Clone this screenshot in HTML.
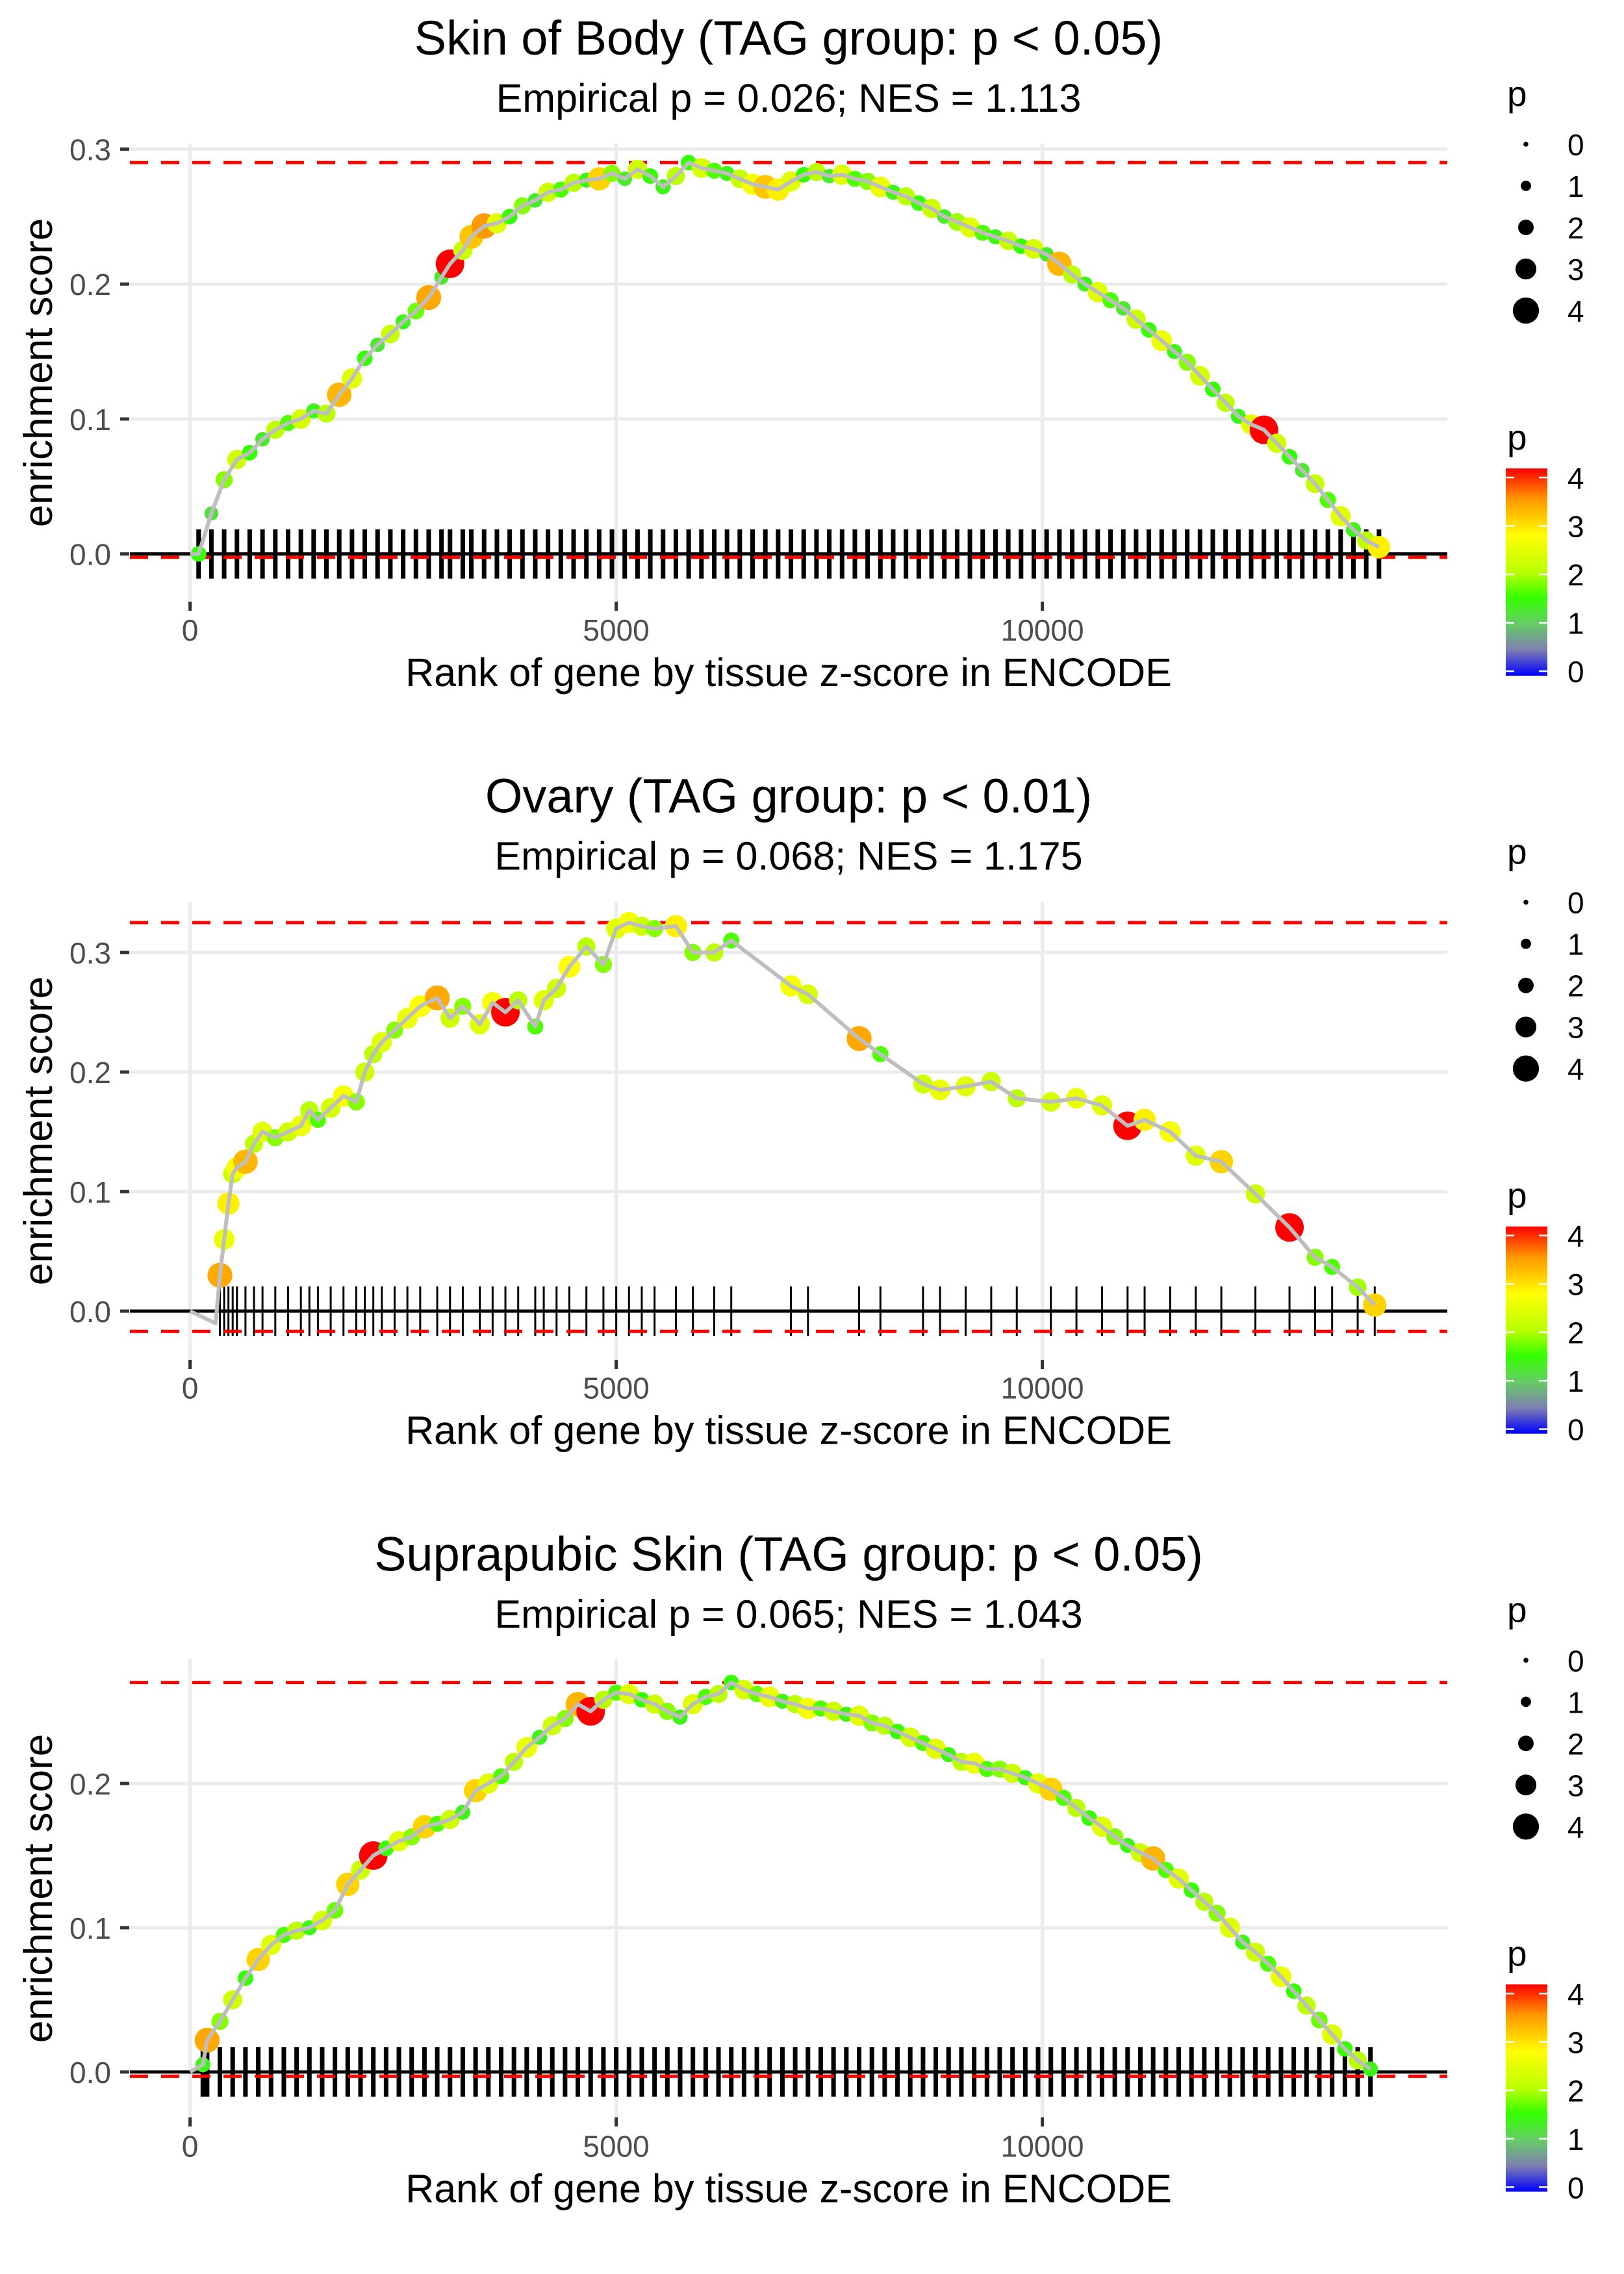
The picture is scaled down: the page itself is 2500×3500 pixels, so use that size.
<!DOCTYPE html>
<html><head><meta charset="utf-8"><style>
html,body{margin:0;padding:0;background:#fff;}
svg{display:block;font-family:"Liberation Sans",sans-serif;}
</style></head><body>
<svg id="chart" width="2500" height="3500" viewBox="0 0 2500 3500" xmlns="http://www.w3.org/2000/svg">
<defs>
<linearGradient id="pgrad" x1="0" y1="1" x2="0" y2="0">
<stop offset="0" stop-color="#0000ff"/><stop offset="0.125" stop-color="#7f7fb0"/><stop offset="0.25" stop-color="#66cc66"/><stop offset="0.375" stop-color="#33ff00"/><stop offset="0.5" stop-color="#bbff00"/><stop offset="0.675" stop-color="#ffff00"/><stop offset="0.85" stop-color="#ff9900"/><stop offset="1" stop-color="#ff0000"/>
</linearGradient>
</defs>
</svg>
<script>
// ---- data ----
const titles = ["Skin of Body (TAG group: p < 0.05)", "Ovary (TAG group: p < 0.01)", "Suprapubic Skin (TAG group: p < 0.05)"];
const subtitles = ["Empirical p = 0.026; NES = 1.113", "Empirical p = 0.068; NES = 1.175", "Empirical p = 0.065; NES = 1.043"];
const xTicks = [0, 5000, 10000];
const yTicks1 = [0, 0.1, 0.2, 0.3];
const yTicks2 = [0, 0.1, 0.2, 0.3];
const yTicks3 = [0, 0.1, 0.2];
const legendValues = [0, 1, 2, 3, 4];
const minEs = [-0.0025, -0.017, -0.003];

const ranks1 = [100,250,400,550,700,850,1000,1150,1300,1450,1600,1750,1900,2050,2200,2350,2500,2650,2800,2950,3050,3200,3300,3450,3600,3750,3900,4050,4200,4350,4500,4650,4800,4950,5100,5250,5400,5550,5700,5850,6000,6150,6300,6450,6600,6750,6900,7050,7200,7350,7500,7650,7800,7950,8100,8250,8400,8550,8700,8850,9000,9150,9300,9450,9600,9750,9900,10050,10200,10350,10500,10650,10800,10950,11100,11250,11400,11550,11700,11850,12000,12150,12300,12450,12600,12750,12900,13050,13200,13350,13500,13650,13800,13950];
const es1 = [0,0.03,0.055,0.07,0.075,0.085,0.092,0.097,0.1,0.106,0.104,0.118,0.13,0.145,0.155,0.163,0.172,0.18,0.19,0.205,0.215,0.225,0.235,0.243,0.245,0.25,0.258,0.262,0.268,0.27,0.275,0.277,0.278,0.282,0.278,0.285,0.28,0.272,0.28,0.29,0.286,0.284,0.282,0.278,0.274,0.272,0.27,0.276,0.281,0.283,0.28,0.281,0.278,0.276,0.272,0.268,0.265,0.26,0.256,0.25,0.246,0.242,0.238,0.235,0.232,0.228,0.226,0.222,0.215,0.207,0.2,0.194,0.188,0.182,0.174,0.166,0.158,0.15,0.142,0.132,0.122,0.112,0.102,0.096,0.092,0.082,0.072,0.062,0.052,0.04,0.028,0.018,0.01,0.005];
const p1 = [1.5,1.2,1.8,2.2,1.5,1.3,2.0,1.6,2.3,1.4,2.0,3.2,2.4,1.5,1.3,2.1,1.4,1.7,3.3,1.3,4.0,2.2,3.1,3.4,2.4,1.5,1.8,1.3,2.2,1.6,2.0,1.4,3.0,1.8,1.3,2.2,1.5,1.4,2.0,1.5,2.3,1.6,1.4,2.1,2.6,3.1,2.8,2.4,1.5,2.0,1.3,2.4,1.6,1.8,2.5,1.4,2.0,1.5,2.2,1.3,1.9,2.4,1.6,1.4,2.1,1.5,2.3,1.3,3.2,2.0,1.4,2.4,1.6,1.3,2.2,1.5,2.5,1.4,1.8,2.3,1.5,2.0,1.4,2.4,4.0,2.2,1.5,1.3,2.1,1.6,2.4,1.4,2.0,2.8];

const ranks2 = [350,400,450,500,550,650,750,850,1000,1150,1300,1400,1500,1650,1800,1950,2050,2150,2250,2400,2550,2700,2900,3050,3200,3400,3550,3700,3850,4050,4150,4300,4450,4650,4850,5000,5150,5300,5450,5700,5900,6150,6350,7050,7250,7850,8100,8600,8800,9100,9400,9700,10100,10400,10700,11000,11200,11500,11800,12100,12500,12900,13200,13400,13700,13900];
const es2 = [0.03,0.06,0.09,0.115,0.12,0.125,0.14,0.15,0.145,0.15,0.155,0.168,0.16,0.17,0.18,0.175,0.2,0.215,0.225,0.235,0.245,0.255,0.262,0.245,0.255,0.24,0.258,0.25,0.26,0.238,0.26,0.27,0.288,0.305,0.29,0.32,0.325,0.322,0.32,0.322,0.3,0.3,0.31,0.272,0.265,0.228,0.215,0.19,0.185,0.188,0.192,0.178,0.175,0.178,0.172,0.155,0.16,0.15,0.13,0.125,0.098,0.07,0.045,0.037,0.02,0.005];
const p2 = [3.3,2.5,2.8,2.2,2.6,3.2,2.0,2.4,1.8,2.2,2.5,2.0,1.6,2.3,2.6,1.8,2.2,2.0,2.4,1.8,2.5,2.7,3.3,2.2,1.8,2.4,2.6,4.0,2.0,1.6,2.4,2.2,2.7,2.0,1.8,2.4,2.6,2.2,1.8,2.8,1.8,2.0,1.6,2.6,2.3,3.3,1.6,2.2,2.5,2.4,2.2,2.0,2.3,2.5,2.4,4.0,2.8,2.6,2.4,3.0,2.2,4.0,1.8,1.6,1.9,3.0];

const ranks3 = [150,200,350,500,650,800,950,1100,1250,1400,1550,1700,1850,2000,2150,2300,2450,2600,2750,2900,3050,3200,3350,3500,3650,3800,3950,4100,4250,4400,4550,4700,4850,5000,5150,5300,5450,5600,5750,5900,6050,6200,6350,6500,6650,6800,6950,7100,7250,7400,7550,7700,7850,8000,8150,8300,8450,8600,8750,8900,9050,9200,9350,9500,9650,9800,9950,10100,10250,10400,10550,10700,10850,11000,11150,11300,11450,11600,11750,11900,12050,12200,12350,12500,12650,12800,12950,13100,13250,13400,13550,13700,13850];
const es3 = [0.005,0.022,0.035,0.05,0.065,0.078,0.088,0.095,0.098,0.1,0.105,0.112,0.13,0.14,0.15,0.155,0.16,0.163,0.17,0.172,0.175,0.18,0.195,0.2,0.205,0.215,0.225,0.232,0.24,0.245,0.255,0.25,0.258,0.263,0.262,0.258,0.255,0.25,0.246,0.255,0.26,0.262,0.27,0.265,0.262,0.26,0.257,0.255,0.252,0.252,0.25,0.248,0.247,0.242,0.24,0.236,0.232,0.228,0.224,0.22,0.215,0.214,0.21,0.21,0.207,0.204,0.2,0.196,0.19,0.183,0.176,0.17,0.163,0.157,0.152,0.148,0.14,0.134,0.126,0.118,0.11,0.1,0.09,0.083,0.075,0.066,0.056,0.046,0.036,0.026,0.016,0.008,0.002];
const p3 = [1.4,3.3,1.8,2.2,1.5,3.0,2.4,1.6,2.0,1.4,2.3,1.7,3.0,2.2,4.0,1.5,2.4,1.8,3.0,1.6,2.2,1.4,3.0,2.4,1.6,2.0,2.5,1.4,2.2,1.8,3.2,4.0,2.0,1.6,2.4,1.5,2.2,1.8,1.4,2.4,1.6,2.0,1.5,2.3,1.7,2.5,1.4,2.0,2.6,1.6,2.2,1.4,2.4,1.8,2.0,1.5,2.3,1.6,2.4,1.4,2.0,2.5,1.6,1.8,2.2,1.4,2.4,3.0,1.6,2.0,1.5,2.4,1.8,1.4,2.2,3.2,1.6,2.4,1.5,2.0,1.8,2.4,1.4,2.2,1.6,2.5,1.5,2.0,1.7,2.4,1.5,2.0,1.4];

const rankArrays = [ranks1, ranks2, ranks3];
const esArrays = [es1, es2, es3];
const pArrays = [p1, p2, p3];
const yTickArrays = [yTicks1, yTicks2, yTicks3];

// ---- layout (pixels, not data) ----
const NS = "http://www.w3.org/2000/svg";
const svg = document.getElementById('chart');
const panelH = 3500 / 3;
const plotL = 200, plotR = 2228;
const x0px = 292.6, xPerUnit = 656 / 5000;
const rugWidths = [7, 3, 7];
const layouts = [
  {zero: 852.6, scale: 2077, top: 221, bottom: 926},
  {zero: 2018, scale: 1840, top: 1388, bottom: 2093},
  {zero: 3189, scale: 2220, top: 2554, bottom: 3259}
];
function xScale(r) { return x0px + r * xPerUnit; }
function mk(tag, attrs, parent) {
  const e = document.createElementNS(NS, tag);
  for (const k in attrs) e.setAttribute(k, attrs[k]);
  (parent || svg).appendChild(e);
  return e;
}
const stops = [[0,[0,0,255]],[0.5,[127,127,176]],[1,[102,204,102]],[1.5,[51,255,0]],[2,[187,255,0]],[2.7,[255,255,0]],[3.4,[255,153,0]],[4,[255,0,0]]];
function pColor(p) {
  p = Math.max(0, Math.min(4, p));
  for (let i = 1; i < stops.length; i++) {
    if (p <= stops[i][0]) {
      const a = stops[i-1], b = stops[i], t = (p - a[0]) / (b[0] - a[0]);
      const c = a[1].map((v, j) => Math.round(v + (b[1][j] - v) * t));
      return 'rgb(' + c.join(',') + ')';
    }
  }
  return 'rgb(255,0,0)';
}
function pRadius(p) { return 6 + p * 4; }
function legRadius(p) { return 4 + p * 4.3; }

for (let i = 0; i < 3; i++) {
  const L = layouts[i], off = i * panelH;
  const yScale = v => L.zero - v * L.scale;
  const g = mk('g', {});
  
  

  const t = mk('text', {x: 1214, y: off + 84, 'font-size': 74, 'text-anchor': 'middle', fill: '#000'}, g);
  t.textContent = titles[i];
  
  
  const st = mk('text', {x: 1214, y: off + 172, 'font-size': 61, 'text-anchor': 'middle', fill: '#000'}, g);
  st.textContent = subtitles[i];
  
  

  yTickArrays[i].forEach(v => {
    const gl = mk('line', {x1: plotL, x2: plotR, y1: yScale(v), y2: yScale(v), stroke: '#ebebeb', 'stroke-width': 5}, g);
    
    
    const tk = mk('line', {x1: 185, x2: 199, y1: yScale(v), y2: yScale(v), stroke: '#333', 'stroke-width': 5}, g);
    
    
    const lb = mk('text', {x: 171, y: yScale(v) + 17, 'font-size': 46, 'text-anchor': 'end', fill: '#4d4d4d'}, g);
    lb.textContent = v.toFixed(1);
    
    
  });
  xTicks.forEach(v => {
    const gl = mk('line', {x1: xScale(v), x2: xScale(v), y1: L.top, y2: L.bottom, stroke: '#ebebeb', 'stroke-width': 5}, g);
    
    
    const tk = mk('line', {x1: xScale(v), x2: xScale(v), y1: L.bottom, y2: L.bottom + 14, stroke: '#333', 'stroke-width': 5}, g);
    
    
    const lb = mk('text', {x: xScale(v), y: off + 986, 'font-size': 46, 'text-anchor': 'middle', fill: '#4d4d4d'}, g);
    lb.textContent = String(v);
    
    
  });

  const yt = mk('text', {x: 0, y: 0, 'font-size': 62, 'text-anchor': 'middle', fill: '#000', transform: 'translate(80,' + ((L.top + L.bottom) / 2) + ') rotate(-90)'}, g);
  yt.textContent = 'enrichment score';
  
  
  const xt = mk('text', {x: 1214, y: off + 1056, 'font-size': 61, 'text-anchor': 'middle', fill: '#000'}, g);
  xt.textContent = 'Rank of gene by tissue z-score in ENCODE';
  
  

  const ranks = rankArrays[i], es = esArrays[i], ps = pArrays[i];

  ranks.forEach(r => {
    const rl = mk('line', {x1: xScale(r), x2: xScale(r), y1: L.zero - 38, y2: L.zero + 38, stroke: '#000', 'stroke-width': rugWidths[i]}, g);
    
    
  });
  const zl = mk('line', {x1: plotL, x2: plotR, y1: L.zero, y2: L.zero, stroke: '#000', 'stroke-width': 5}, g);
  
  
  const mx = Math.max.apply(null, es);
  const dmx = mk('line', {x1: plotL, x2: plotR, y1: yScale(mx), y2: yScale(mx), stroke: '#ff0000', 'stroke-width': 5, 'stroke-dasharray': '28 20'}, g);
  
  
  const dmn = mk('line', {x1: plotL, x2: plotR, y1: yScale(minEs[i]), y2: yScale(minEs[i]), stroke: '#ff0000', 'stroke-width': 5, 'stroke-dasharray': '28 20'}, g);
  
  

  ranks.forEach((r, k) => {
    const c = mk('circle', {cx: xScale(r), cy: yScale(es[k]), r: pRadius(ps[k]), fill: pColor(ps[k])}, g);
    
    
  });
  let d = 'M' + xScale(0) + ',' + yScale(0);
  if (i === 1) d += ' L' + xScale(300) + ',' + yScale(minEs[i] * 0.6);
  ranks.forEach((r, k) => { d += ' L' + xScale(r) + ',' + yScale(es[k]); });
  const pl = mk('path', {d: d, fill: 'none', stroke: '#bebebe', 'stroke-width': 6, 'stroke-linejoin': 'round'}, g);
  
  

  const lg = mk('g', {}, g);
  
  
  const lt = mk('text', {x: 2320, y: off + 163, 'font-size': 55, fill: '#000'}, lg);
  lt.textContent = 'p';
  
  
  legendValues.forEach((v, k) => {
    const cy = off + 222 + k * 64;
    const c = mk('circle', {cx: 2349, cy: cy, r: legRadius(v) * 0.95, fill: '#000'}, lg);
    
    
    const tx = mk('text', {x: 2413, y: cy + 17, 'font-size': 46, fill: '#000'}, lg);
    tx.textContent = String(v);
    
    
  });
  const cg = mk('g', {}, g);
  
  
  const ct = mk('text', {x: 2320, y: off + 692, 'font-size': 55, fill: '#000'}, cg);
  ct.textContent = 'p';
  
  
  const bar = mk('rect', {x: 2318, y: off + 721, width: 64, height: 319, fill: 'url(#pgrad)'}, cg);
  
  
  legendValues.forEach(v => {
    const cy = off + 1033 - v * 74.5;
    mk('line', {x1: 2318, x2: 2331, y1: cy, y2: cy, stroke: '#fff', 'stroke-width': 2.5}, cg);
    mk('line', {x1: 2369, x2: 2382, y1: cy, y2: cy, stroke: '#fff', 'stroke-width': 2.5}, cg);
    const tx = mk('text', {x: 2413, y: cy + 17, 'font-size': 46, fill: '#000'}, cg);
    tx.textContent = String(v);
    
    
  });
}
</script>
</body></html>
